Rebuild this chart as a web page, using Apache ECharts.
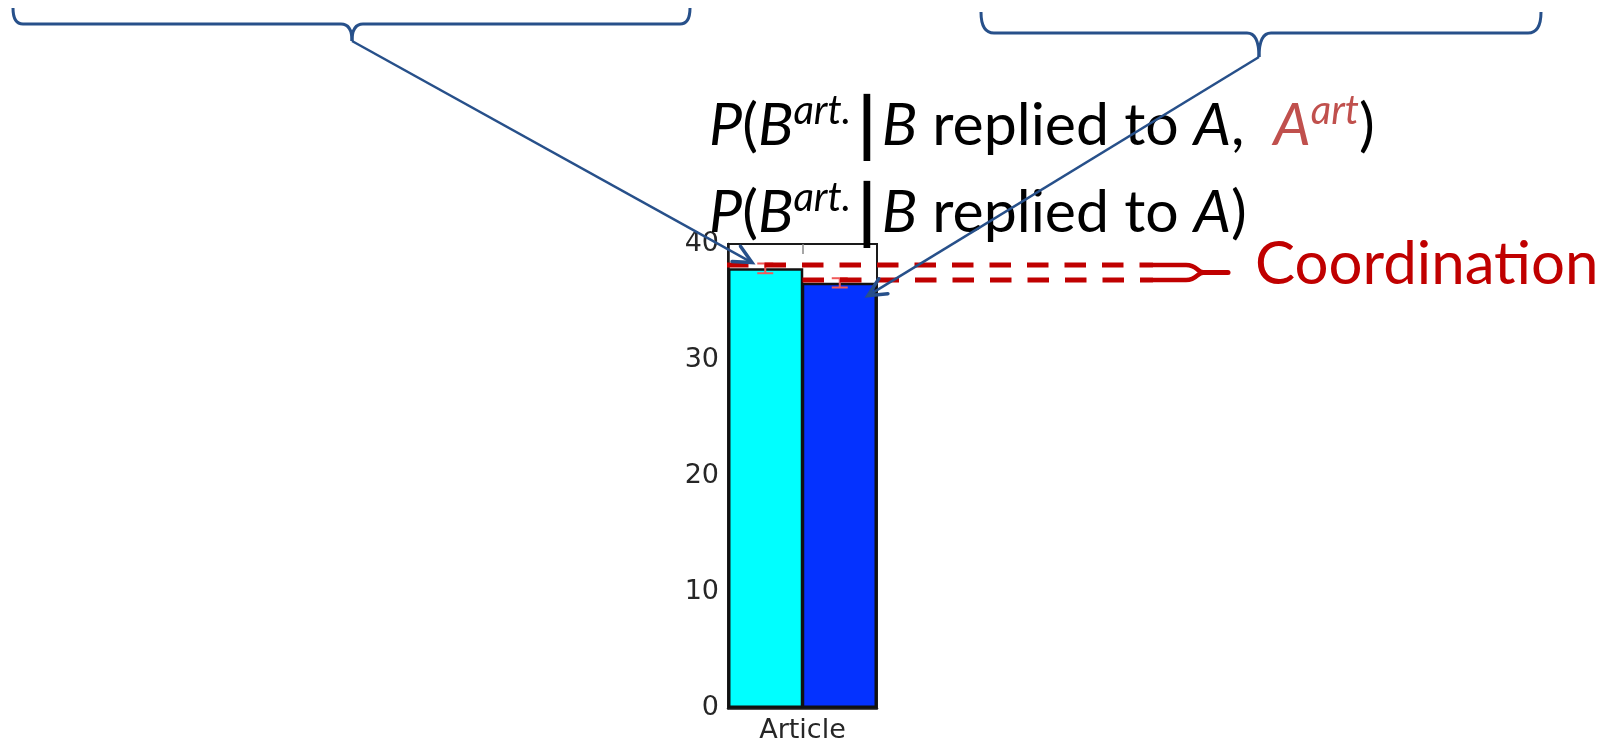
<!DOCTYPE html>
<html><head><meta charset="utf-8">
<script src="https://cdn.jsdelivr.net/npm/echarts@6/dist/echarts.min.js"></script>
<style>html,body{margin:0;padding:0;background:#fff}#c{width:1610px;height:744px}</style>
</head><body><div id="c"></div>
<script>
const categories = ['Article'];
const seriesNames = ['P(B art. | B replied to A, A art)', 'P(B art. | B replied to A)'];
const barValues = [37.9, 36.65];
const errValues = [0.42, 0.4];
const yTicks = [0, 10, 20, 30, 40];
const annotationText = 'Coordination';

const barColors = ['#00ffff', '#0432ff'];
const chart = echarts.init(document.getElementById('c'), null, {renderer: 'canvas'});

function errSeries(idx) {
  return {
    type: 'custom', z: 5, silent: true,
    renderItem(params, api) {
      const c = api.coord([api.value(0), api.value(1)]);
      const band = api.size([1, 0])[0];
      const x = c[0] + (idx === 0 ? -band / 4 : band / 4);
      const top = api.coord([api.value(0), api.value(1) + api.value(2)])[1];
      const bot = api.coord([api.value(0), api.value(1) - api.value(2)])[1];
      const w = 8;
      const st = {stroke: '#f05a5a', lineWidth: 2};
      return {type: 'group', children: [
        {type: 'line', shape: {x1: x, y1: top, x2: x, y2: bot}, style: st},
        {type: 'line', shape: {x1: x - w, y1: top, x2: x + w, y2: top}, style: st},
        {type: 'line', shape: {x1: x - w, y1: bot, x2: x + w, y2: bot}, style: st}
      ]};
    },
    data: [[0, barValues[idx], errValues[idx]]]
  };
}

chart.setOption({
  animation: false,
  grid: {left: 728, top: 244, width: 149, height: 464, show: true, borderColor: '#1a1a1a', borderWidth: 2, containLabel: false},
  xAxis: [
    {type: 'category', data: categories, position: 'bottom',
     axisLine: {show: true, lineStyle: {color: '#1a1a1a', width: 2.5}},
     axisTick: {show: false},
     axisLabel: {fontFamily: 'DejaVu Sans', fontSize: 27, color: '#262626', margin: 9}},
    {type: 'category', data: categories, position: 'top',
     axisLine: {show: false},
     axisTick: {show: true, inside: true, alignWithLabel: true, length: 10, lineStyle: {color: '#888', width: 1.5}},
     axisLabel: {show: false}}
  ],
  yAxis: {type: 'value', min: yTicks[0], max: yTicks[yTicks.length - 1], interval: yTicks[1] - yTicks[0],
    axisLine: {show: true, lineStyle: {color: '#1a1a1a', width: 2.5}},
    axisTick: {show: false}, splitLine: {show: false},
    axisLabel: {fontFamily: 'DejaVu Sans', fontSize: 27, color: '#262626', margin: 9}},
  series: [
    {type: 'bar', name: seriesNames[0], data: [barValues[0]], barGap: '-2%', barCategoryGap: '0%',
     itemStyle: {color: barColors[0], borderColor: '#111', borderWidth: 2.5}},
    {type: 'bar', name: seriesNames[1], data: [barValues[1]], barGap: '-2%', barCategoryGap: '0%',
     itemStyle: {color: barColors[1], borderColor: '#111', borderWidth: 2.5}},
    errSeries(0), errSeries(1)
  ]
});

// ---- annotations ----
const xc = chart.convertToPixel({xAxisIndex: 0}, categories[0]);
const gridLeft = 728;
const band = 2 * (xc - gridLeft);
const yPix = v => chart.convertToPixel({yAxisIndex: 0}, v);
const blue = '#27508a';
const red = '#c00000';
const g = [];

function brace(xl, xr, yTop, yH, xm, yTip, r, hw) {
  const st = {stroke: blue, lineWidth: 3, fill: null};
  g.push({type: 'bezierCurve', shape: {x1: xl, y1: yTop, x2: xl + r, y2: yH, cpx1: xl, cpy1: yH}, style: st, z: 20});
  g.push({type: 'line', shape: {x1: xl + r, y1: yH, x2: xm - hw, y2: yH}, style: st, z: 20});
  g.push({type: 'bezierCurve', shape: {x1: xm - hw, y1: yH, x2: xm, y2: yTip, cpx1: xm, cpy1: yH}, style: st, z: 20});
  g.push({type: 'bezierCurve', shape: {x1: xm + hw, y1: yH, x2: xm, y2: yTip, cpx1: xm, cpy1: yH}, style: st, z: 20});
  g.push({type: 'line', shape: {x1: xm + hw, y1: yH, x2: xr - r, y2: yH}, style: st, z: 20});
  g.push({type: 'bezierCurve', shape: {x1: xr - r, y1: yH, x2: xr, y2: yTop, cpx1: xr, cpy1: yH}, style: st, z: 20});
}
function arrow(x1, y1, x2, y2) {
  const st = {stroke: blue, lineWidth: 2.5, fill: null};
  g.push({type: 'line', shape: {x1, y1, x2, y2}, style: st, z: 21});
  const a = Math.atan2(y2 - y1, x2 - x1);
  const L = 20, sp = 0.45;
  const hs = {stroke: blue, lineWidth: 3.5, fill: null, lineCap: 'round'};
  g.push({type: 'polyline', shape: {points: [
    [x2 - L * Math.cos(a - sp), y2 - L * Math.sin(a - sp)], [x2, y2],
    [x2 - L * Math.cos(a + sp), y2 - L * Math.sin(a + sp)]]}, style: hs, z: 21});
}

brace(13, 690, 8, 24, 352, 41, 10, 11);
brace(981, 1541, 12, 33, 1259, 57, 13, 12);
arrow(352, 41, gridLeft + 24, yPix(barValues[0] + 0.5));
arrow(1259, 57, gridLeft + band - 9, yPix(barValues[1] - 1.1));

// dashed coordination lines
const yUp = yPix(barValues[0] + 0.3);
const yLo = yPix(barValues[1] + 0.25);
const bx = 1153;
const dash = {stroke: red, lineWidth: 5, lineDash: [21.5, 16], fill: null};
g.push({type: 'line', shape: {x1: gridLeft - 1, y1: yUp, x2: bx, y2: yUp}, style: dash, z: 15});
g.push({type: 'line', shape: {x1: xc, y1: yLo, x2: bx, y2: yLo}, style: dash, z: 15});
const ym = (yUp + yLo) / 2;
const bs = {stroke: red, lineWidth: 4.5, fill: null};
g.push({type: 'line', shape: {x1: bx, y1: yUp, x2: 1186, y2: yUp}, style: bs, z: 15});
g.push({type: 'line', shape: {x1: bx, y1: yLo, x2: 1186, y2: yLo}, style: bs, z: 15});
g.push({type: 'bezierCurve', shape: {x1: 1186, y1: yUp, x2: 1204, y2: ym, cpx1: 1198, cpy1: yUp, cpx2: 1196, cpy2: ym}, style: bs, z: 15});
g.push({type: 'bezierCurve', shape: {x1: 1186, y1: yLo, x2: 1204, y2: ym, cpx1: 1198, cpy1: yLo, cpx2: 1196, cpy2: ym}, style: bs, z: 15});
g.push({type: 'line', shape: {x1: 1202, y1: ym, x2: 1228, y2: ym}, style: {stroke: red, lineWidth: 5, lineCap: 'round'}, z: 15});

// text
const F = 'Lato';
const FS = 59;
const rich = {
  n: {fontFamily: F, fontSize: FS, lineHeight: 70, fill: '#000'},
  i: {fontFamily: F, fontSize: FS, lineHeight: 70, fontStyle: 'italic', fill: '#000'},
  s: {fontFamily: F, fontSize: 40, lineHeight: 36, fontStyle: 'italic', verticalAlign: 'top', fill: '#000'},
  bar: {fontFamily: F, fontSize: 70, lineHeight: 70, fontWeight: 'bold', fill: '#000'},
  sa: {fontFamily: F, fontSize: 26, lineHeight: 70, fill: '#000'},
  sb: {fontFamily: F, fontSize: 22, lineHeight: 70, fill: '#000'},
  sc: {fontFamily: F, fontSize: 55, lineHeight: 70, fill: '#000'},
  ra: {fontFamily: F, fontSize: FS, lineHeight: 70, fontStyle: 'italic', fill: '#c0504d'},
  rs: {fontFamily: F, fontSize: 40, lineHeight: 36, fontStyle: 'italic', verticalAlign: 'top', fill: '#c0504d'}
};
const line1 = '{i|P}{n|(}{i|B}{s|art.}{sa| }{bar||}{sb| }{i|B}{n| replied to }{i|A}{n|, }{sc| }{ra|A}{rs|art}{n|)}';
const line2 = '{i|P}{n|(}{i|B}{s|art.}{sa| }{bar||}{sb| }{i|B}{n| replied to }{i|A}{n|)}';
g.push({type: 'text', z: 10, style: {x: 709, y: 91, text: line1, rich, align: 'left', verticalAlign: 'top', fontFamily: F, fontSize: FS}});
g.push({type: 'text', z: 10, style: {x: 709, y: 178, text: line2, rich, align: 'left', verticalAlign: 'top', fontFamily: F, fontSize: FS}});
g.push({type: 'text', z: 10, style: {x: 1255, y: 265, text: annotationText, fill: red, fontFamily: F, fontSize: 60, align: 'left', verticalAlign: 'middle'}});

chart.setOption({graphic: {elements: g}});
</script></body></html>
